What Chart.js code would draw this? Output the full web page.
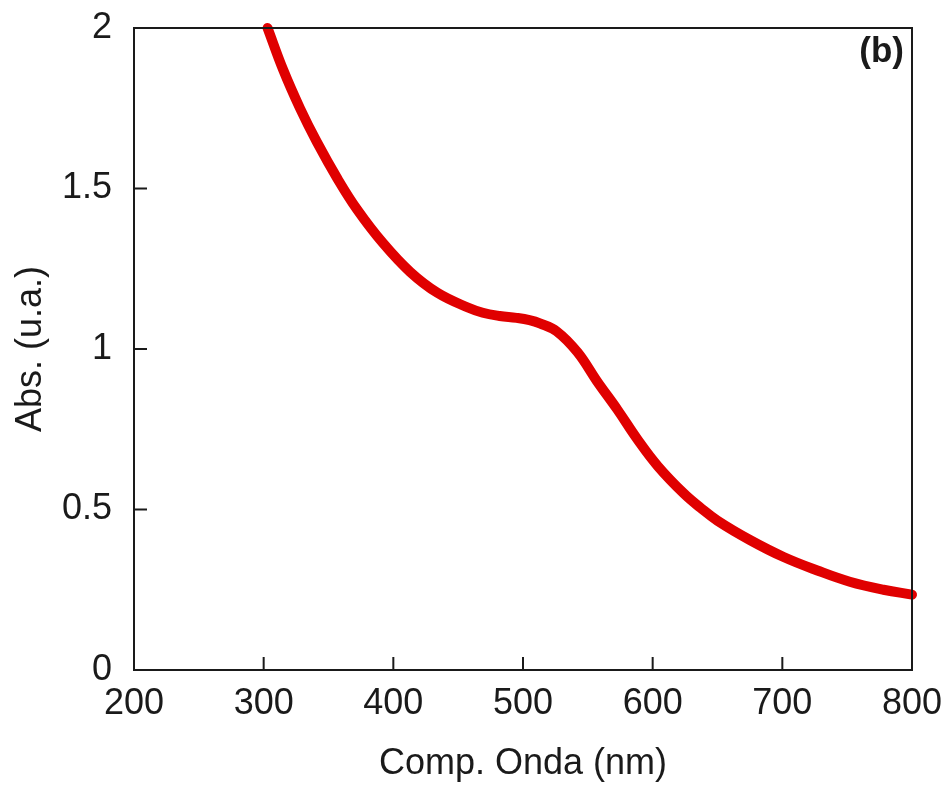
<!DOCTYPE html>
<html>
<head>
<meta charset="utf-8">
<script src="https://cdn.jsdelivr.net/npm/chart.js@4.4.1/dist/chart.umd.min.js"></script>
<style>
  html, body { margin: 0; padding: 0; background: #fff; }
  #wrap { width: 950px; height: 790px; }
</style>
</head>
<body>
<div id="wrap"><canvas id="absChart" width="950" height="790"></canvas></div>
<script>
// wavelength (nm) and absorbance
const wavelengths = [303, 315, 328, 341, 357, 372, 392, 413, 434, 457, 469, 482, 495, 505, 513, 526, 542, 557, 573, 588, 604, 624, 637, 650, 675, 701, 727, 752, 778, 800];
const absorbance  = [2.00, 1.87, 1.75, 1.645, 1.53, 1.435, 1.33, 1.24, 1.175, 1.13, 1.113, 1.103, 1.097, 1.09, 1.08, 1.055, 0.99, 0.9, 0.81, 0.72, 0.635, 0.55, 0.505, 0.465, 0.405, 0.352, 0.31, 0.275, 0.25, 0.235];
const xTicks = [200, 300, 400, 500, 600, 700, 800];
const yTicks = [0, 0.5, 1, 1.5, 2];
const panelLabel = '(b)';

const fontFam = '"Liberation Sans", Arial, sans-serif';
const ink = '#1a1a1a';

// frame + inward tick marks + panel letter
const framePlugin = {
    id: 'frame',
    afterDraw(chart){
        const ctx = chart.ctx;
        const a = chart.chartArea;
        const xs = chart.scales.x, ys = chart.scales.y;
        ctx.save();
        ctx.strokeStyle = ink;
        ctx.lineWidth = 2;
        ctx.strokeRect(a.left, a.top, a.right - a.left, a.bottom - a.top);
        ctx.beginPath();
        xTicks.forEach(v => {
            const px = xs.getPixelForValue(v);
            ctx.moveTo(px, a.bottom);
            ctx.lineTo(px, a.bottom - 13);
        });
        yTicks.forEach(v => {
            const py = ys.getPixelForValue(v);
            ctx.moveTo(a.left, py);
            ctx.lineTo(a.left + 13, py);
        });
        ctx.stroke();
        ctx.fillStyle = ink;
        ctx.font = 'bold 35px ' + fontFam;
        ctx.textAlign = 'right';
        ctx.textBaseline = 'top';
        ctx.fillText(panelLabel, a.right - 8, a.top + 7);
        ctx.restore();
    }
};

new Chart(document.getElementById('absChart'), {
    type: 'line',
    data: {
        datasets: [{
            data: wavelengths.map((w, i) => ({x: w, y: absorbance[i]})),
            borderColor: '#e00000',
            borderWidth: 10,
            borderCapStyle: 'round',
            borderJoinStyle: 'round',
            pointRadius: 0,
            tension: 0.4,
            clip: false
        }]
    },
    options: {
        responsive: false,
        animation: false,
        layout: { padding: { left: 0, right: 38, top: 28, bottom: 0 } },
        plugins: { legend: { display: false }, tooltip: { enabled: false } },
        scales: {
            x: {
                type: 'linear',
                min: 200, max: 800,
                afterBuildTicks: s => { s.ticks = xTicks.map(v => ({value: v})); },
                afterFit: s => { s.height = 120; s.paddingLeft = 0; s.paddingRight = 0; },
                grid: { display: false, drawTicks: false },
                border: { display: false },
                ticks: { color: ink, font: { family: fontFam, size: 36 }, padding: 12, maxRotation: 0 },
                title: { display: true, text: 'Comp. Onda (nm)', color: ink, font: { family: fontFam, size: 36 }, padding: { top: 4, bottom: 4 } }
            },
            y: {
                min: 0, max: 2,
                afterBuildTicks: s => { s.ticks = yTicks.map(v => ({value: v})); },
                afterFit: s => { s.width = 134; s.paddingTop = 0; s.paddingBottom = 0; },
                grid: { display: false, drawTicks: false },
                border: { display: false },
                ticks: { color: ink, font: { family: fontFam, size: 36 }, padding: 22, callback: v => String(v) },
                title: { display: true, text: 'Abs. (u.a.)', color: ink, font: { family: fontFam, size: 36 }, padding: { top: 9, bottom: 0 } }
            }
        }
    },
    plugins: [framePlugin]
});
</script>
</body>
</html>
